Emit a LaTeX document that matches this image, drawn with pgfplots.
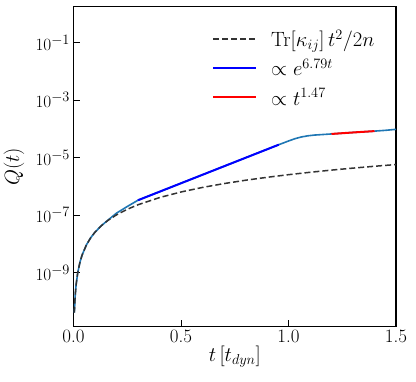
\documentclass[border=0pt]{standalone}
\usepackage{pgfplots}
\pgfplotsset{compat=1.18}
\definecolor{mplblue}{RGB}{31,119,180}
\begin{document}
\begin{tikzpicture}
\begin{axis}[
  scale only axis, width=322.5bp, height=320bp,
  xmin=0, xmax=1.5, ymode=log, ymin=1.32e-11, ymax=1.78,
  xtick={0,0.5,1,1.5}, xticklabels={0.0,0.5,1.0,1.5},
  ytick={1e-9,1e-7,1e-5,1e-3,1e-1},
  yminorticks=false, xminorticks=false,
  tick align=inside, xtick pos=bottom, ytick pos=left,
  major tick length=7bp,
  axis line style={line width=1.3bp},
  tick style={line width=0.8bp, black},
  tick label style={font=\fontsize{19}{23}\selectfont},
  label style={font=\fontsize{20}{24}\selectfont},
  xlabel={$t\,[t_{dyn}]$}, ylabel={$Q(t)$},
  xlabel style={at={(axis description cs:0.5,-0.0947)}, anchor=center},
  ylabel style={at={(axis description cs:-0.1845,0.5)}, anchor=center},
  legend style={at={(axis description cs:0.4295,0.9406)}, anchor=north west,
    draw=none, fill=none, font=\fontsize{21}{25}\selectfont, row sep=7bp,
    column sep=12bp, inner xsep=0pt},
  legend cell align=left,
  legend image code/.code={\draw[#1] (0bp,0bp) -- (43bp,0bp);},
]
% simulated Q(t)
\addplot[mplblue, line width=1.6bp, forget plot] coordinates {
(0.004,4.10e-11) (0.008,1.64e-10) (0.012,3.69e-10) (0.02,1.024e-9) (0.03,2.30e-9)
(0.04,4.10e-9) (0.06,9.22e-9) (0.08,1.64e-8) (0.1,2.56e-8) (0.13,4.33e-8)
(0.16,6.7e-8) (0.2,1.175e-7) (0.25,2.0e-7) (0.3,3.31e-7) (0.4,6.53e-7)
(0.5,1.288e-6) (0.6,2.54e-6) (0.7,5.01e-6) (0.8,9.87e-6) (0.9,1.946e-5)
(0.95,2.735e-5) (1.0,3.80e-5) (1.03,4.57e-5) (1.06,5.25e-5) (1.09,5.75e-5)
(1.12,6.10e-5) (1.16,6.38e-5) (1.2,6.68e-5) (1.3,7.52e-5) (1.4,8.38e-5)
(1.45,8.91e-5) (1.5,9.66e-5)};
% Tr[kappa] t^2/2n
\addplot[black!80, line width=1.5bp, dash pattern=on 6bp off 3bp] coordinates {
(0.004,4.10e-11) (0.006,9.22e-11) (0.008,1.64e-10) (0.012,3.69e-10) (0.016,6.55e-10)
(0.02,1.024e-9) (0.03,2.30e-9) (0.04,4.10e-9) (0.06,9.22e-9) (0.08,1.64e-8)
(0.1,2.56e-8) (0.13,4.33e-8) (0.16,6.55e-8) (0.2,1.024e-7) (0.25,1.60e-7)
(0.3,2.30e-7) (0.4,4.10e-7) (0.5,6.40e-7) (0.6,9.22e-7) (0.7,1.254e-6)
(0.8,1.638e-6) (0.9,2.07e-6) (1.0,2.56e-6) (1.1,3.10e-6) (1.2,3.69e-6)
(1.3,4.33e-6) (1.4,5.02e-6) (1.5,5.76e-6)};
\addlegendentry{$\mathrm{Tr}[\kappa_{ij}]\,t^2/2n$}
% exponential fit
\addplot[blue, line width=2bp] coordinates {
(0.3,3.31e-7) (0.5,1.288e-6) (0.7,5.01e-6) (0.955,2.83e-5)};
\addlegendentry{$\propto e^{6.79t}$}
% power-law fit
\addplot[red, line width=2bp] coordinates {
(1.2,6.68e-5) (1.3,7.52e-5) (1.4,8.38e-5)};
\addlegendentry{$\propto t^{1.47}$}
\end{axis}
\pgfresetboundingbox
\path (current axis.south west) ++(-73.5bp,-55.3bp) rectangle ++(416bp,382bp);
\end{tikzpicture}
\end{document}
